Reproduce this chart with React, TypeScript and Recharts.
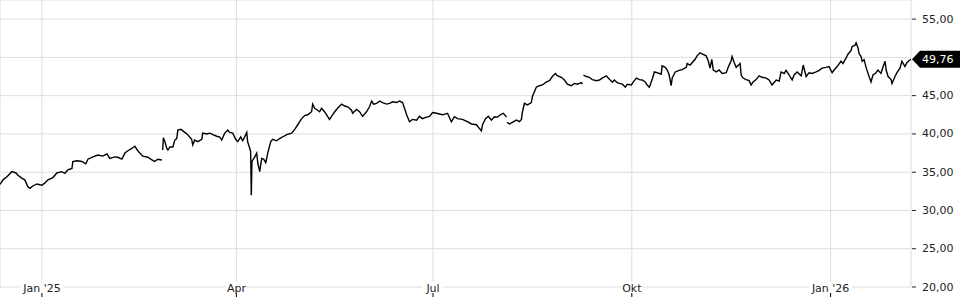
import { LineChart, Line, XAxis, YAxis, CartesianGrid, ReferenceDot } from 'recharts';

// days since 2025-01-01 (fractional = intraday), null price = gap in the feed
const days = [
  -19.4, -18.0, -16.2, -13.9, -12.0, -11.1, -9.2, -7.9, -6.5, -5.5, -4.2, -2.3, 0.0, 1.4, 2.8, 5.1, 6.9, 9.2,
  10.6, 12.0, 13.9, 14.3, 16.2, 18.5, 20.3, 21.3, 23.6, 25.9, 28.2, 30.1, 31.4, 33.7, 35.1, 37.0, 38.4, 39.8,
  41.6, 43.0, 43.9, 45.3, 46.7, 49.0, 50.9, 52.2, 53.6, 55.5, 55.7, 55.9, 56.2, 56.9, 57.8, 58.3, 59.2, 60.6,
  61.5, 62.4, 62.9, 64.3, 65.2, 66.6, 67.5, 69.3, 69.8, 70.7, 72.1, 74.0, 74.4, 76.3, 77.7, 79.1, 80.9, 82.3,
  83.2, 84.6, 86.0, 86.9, 88.3, 89.7, 90.6, 92.0, 92.9, 93.8, 94.8, 95.2, 96.2, 96.6, 96.9, 97.2, 98.5, 99.4,
  99.9, 100.8, 101.7, 102.6, 103.6, 104.5, 105.9, 106.8, 108.6, 110.0, 111.4, 113.3, 115.6, 117.0, 118.4,
  119.3, 120.2, 121.6, 123.0, 124.8, 125.3, 126.2, 127.6, 128.5, 129.4, 130.8, 132.2, 133.1, 134.5, 135.5,
  136.8, 138.7, 140.1, 141.5, 143.3, 143.8, 145.6, 147.0, 148.4, 150.2, 151.6, 152.6, 153.5, 154.9, 156.3,
  157.6, 159.5, 160.9, 162.3, 164.1, 165.5, 166.9, 167.8, 168.8, 170.1, 171.5, 173.4, 174.7, 176.1, 178.0,
  179.4, 180.8, 182.6, 184.0, 185.4, 187.7, 189.5, 190.9, 192.3, 194.6, 196.9, 198.8, 201.1, 202.5, 203.4,
  203.9, 205.3, 206.6, 208.0, 209.4, 210.8, 212.7, 213.6, 215.0, 215.1, 215.2, 216.4, 217.7, 219.6, 221.0,
  221.9, 222.4, 223.3, 224.7, 226.5, 227.0, 227.9, 228.8, 230.2, 231.6, 233.5, 234.9, 236.2, 237.6, 238.5,
  240.4, 241.8, 243.2, 245.0, 246.4, 247.8, 249.7, 250.1, 250.3, 250.6, 252.0, 253.3, 254.7, 256.6, 258.0,
  259.3, 261.2, 262.1, 264.0, 264.9, 266.3, 267.2, 268.6, 270.0, 270.9, 272.8, 273.7, 275.1, 276.5, 277.8,
  279.2, 280.1, 281.1, 282.4, 283.4, 284.7, 286.6, 287.0, 288.5, 289.4, 290.3, 291.2, 291.7, 293.1, 294.9,
  296.3, 298.2, 298.6, 300.0, 300.9, 302.3, 303.2, 304.6, 305.5, 307.4, 308.3, 309.2, 310.0, 310.7, 312.1,
  313.4, 314.8, 316.7, 317.6, 319.0, 319.4, 320.4, 321.3, 323.1, 323.6, 324.5, 325.9, 327.3, 328.2, 329.1,
  330.5, 331.9, 333.3, 335.2, 336.5, 337.9, 339.8, 341.2, 342.1, 343.5, 344.4, 345.8, 347.2, 348.1, 349.5,
  351.4, 352.3, 353.7, 355.0, 356.4, 358.3, 359.7, 361.0, 362.9, 364.3, 365.7, 366.6, 368.0, 369.8, 370.7,
  372.1, 373.1, 374.5, 374.9, 376.3, 376.8, 377.7, 378.2, 379.1, 379.6, 380.5, 381.4, 382.8, 383.7, 384.6,
  386.0, 386.9, 388.3, 389.3, 390.2, 390.7, 391.6, 393.0, 393.4, 394.8, 395.7, 397.1, 398.0, 399.4, 400.3,
  401.3, 402.2,
];

const prices: (number | null)[] = [
  33.4, 34.0, 34.4, 35.07, 34.9, 34.6, 34.2, 34.0, 33.1, 32.9, 33.2, 33.46, 33.3, 33.6, 34.0, 34.3, 34.9, 35.07,
  34.86, 35.3, 35.5, 36.4, 36.5, 36.4, 36.1, 36.7, 37.0, 37.25, 37.1, 37.4, 36.8, 37.0, 36.95, 36.7, 37.5, 37.8,
  38.1, 38.4, 38.0, 37.5, 37.1, 36.95, 36.6, 36.4, 36.7, 36.6, null, 37.9, 39.5, 39.0, 38.1, 37.9, 38.3, 38.3,
  39.2, 39.4, 40.5, 40.6, 40.4, 40.1, 39.9, 39.3, 38.55, 39.2, 39.0, 39.3, 40.1, 40.0, 40.1, 39.9, 39.7, 39.6,
  39.2, 40.1, 40.5, 40.2, 40.1, 39.3, 39.0, 39.6, 39.1, 39.6, 40.2, 39.0, 38.1, 37.7, 32.0, 36.4, 37.0, 37.5,
  36.2, 35.07, 36.8, 36.7, 36.25, 37.5, 39.0, 39.3, 39.1, 39.4, 39.6, 39.9, 40.1, 40.6, 41.2,
  41.6, 42.0, 42.4, 42.5, 42.9, 43.9, 43.35, 43.1, 42.9, 43.35, 42.9, 42.3, 41.9, 42.5, 42.9,
  43.35, 43.9, 43.65, 43.55, 43.1, 42.7, 43.2, 42.9, 42.3, 42.9, 43.55, 44.3, 43.9, 44.0, 44.3,
  44.1, 43.9, 44.0, 44.2, 44.1, 44.3, 44.1, 43.35, 42.5, 41.6, 41.9, 41.8, 42.3, 42.0, 42.2,
  42.3, 42.8, 42.7, 42.6, 42.5, 42.7, 41.6, 42.25, 42.0, 41.9, 41.6, 41.3, 41.2, 40.7, 40.4,
  41.2, 42.0, 42.3, 41.8, 42.25, 42.2, 42.6, 42.7, 42.2, null, 41.5, 41.3, 41.5, 41.8, 41.6,
  41.9, 42.9, 44.0, 43.8, 44.1, 44.9, 45.5, 46.1, 46.3, 46.4, 46.8, 46.96, 47.5, 47.9, 47.6,
  47.4, 47.05, 46.5, 46.3, 46.6, 46.5, 46.7, 46.5, null, 47.7, 47.5, 47.4, 47.1, 46.96, 47.05,
  47.3, 47.6, 47.3, 46.75, 47.05, 46.7, 46.6, 46.5, 46.1, 46.5, 46.4, 46.8, 47.3, 47.1, 47.05,
  46.8, 46.4, 46.1, 47.1, 48.1, 48.0, 47.8, 48.9, 48.7, 48.35, 47.7, 46.3, 47.3, 48.1, 48.3,
  48.4, 48.7, 49.2, 49.0, 49.3, 49.75, 50.2, 50.6, 50.45, 50.2, 49.6, 48.6, 49.75, 48.35, 48.1,
  48.35, 47.9, 48.0, 48.7, 49.6, 50.1, 49.3, 48.7, 49.2, 47.7, 47.3, 47.1, 46.96, 46.4, 46.8,
  47.1, 47.6, 47.4, 47.3, 47.05, 46.4, 47.05, 46.9, 48.1, 47.9, 48.3, 47.7, 47.05, 47.7, 48.1,
  47.6, 49.0, 47.5, 48.0, 47.9, 48.1, 48.3, 48.6, 48.7, 48.8, 48.0, 48.35, 48.8, 49.5, 49.2,
  49.9, 50.45, 50.9, 51.4, 51.6, 51.9, 51.2, 50.5, 50.1, 49.5, 49.7, 48.7, 47.5, 46.8, 47.7,
  48.0, 48.35, 47.9, 48.8, 49.5, 48.35, 47.5, 47.1, 46.6, 47.5, 48.0, 48.6, 49.5, 48.8, 49.3,
  49.6, 49.76,
];

const tickDays = [0, 90, 181, 273, 365];
const tickLabels = ["Jan '25", 'Apr', 'Jul', 'Okt', "Jan '26"];
const priceTicks = [20, 25, 30, 35, 40, 45, 50, 55];

const data = days.map((day, i) => ({ day, price: prices[i] }));
const lastDay = days[days.length - 1];
const lastPrice = prices[prices.length - 1] as number;

const FONT = '"DejaVu Sans", sans-serif';
const fmt = (v: number) => v.toFixed(2).replace('.', ',');

function XTick({ x, y, payload }: any) {
  const label = tickLabels[tickDays.indexOf(payload.value)] ?? '';
  const w = label.length * 5.6 + 4;
  return (
    <g>
      <rect x={x - w / 2} y={y - 5} width={w} height={11} fill="#fff" />
      <text x={x} y={y + 4.5} textAnchor="middle" fontSize={11} fontFamily={FONT} fill="#222">
        {label}
      </text>
      <line x1={x} x2={x} y1={y + 6} y2={y + 10} stroke="#000" strokeWidth={1} />
    </g>
  );
}

function YTick({ x, y, payload }: any) {
  // the last-price tag sits on top of this label in the original
  if (Math.abs(payload.value - lastPrice) < 2) return <g />;
  return (
    <g>
      <line x1={x + 1} x2={x + 5} y1={y} y2={y} stroke="#222" strokeWidth={1} />
      <text x={x + 11} y={y} dominantBaseline="central" fontSize={11} fontFamily={FONT} fill="#222">
        {fmt(payload.value)}
      </text>
    </g>
  );
}

function LastTag({ cx, cy }: any) {
  const h = 8.5;
  return (
    <g>
      <polygon
        points={`${cx + 1},${cy} ${cx + 9},${cy - h} 960,${cy - h} 960,${cy + h} ${cx + 9},${cy + h}`}
        fill="#000"
      />
      <text x={cx + 11} y={cy} dominantBaseline="central" fontSize={11} fontFamily={FONT} fill="#fff">
        {fmt(lastPrice)}
      </text>
    </g>
  );
}

export default function App() {
  return (
    <div style={{ width: 960, height: 300 }}>
      <style>{'body{margin:0}'}</style>
      <LineChart width={960} height={300} data={data} margin={{ top: 0, right: 0, bottom: 0, left: 0 }}>
        <CartesianGrid stroke="#ddd" strokeWidth={1} />
        <XAxis
          dataKey="day"
          type="number"
          domain={[-19.4, 402.2]}
          ticks={tickDays}
          interval={0}
          height={13}
          axisLine={false}
          tickLine={false}
          tickSize={0}
          tickMargin={0}
          tick={<XTick />}
          allowDataOverflow
        />
        <YAxis
          orientation="right"
          domain={[20, 57.5]}
          ticks={priceTicks}
          interval={0}
          width={49}
          axisLine={false}
          tickLine={false}
          tickSize={0}
          tickMargin={0}
          tick={<YTick />}
          allowDataOverflow
        />
        <Line
          dataKey="price"
          type="linear"
          stroke="#000"
          strokeWidth={1.4}
          dot={false}
          activeDot={false}
          connectNulls={false}
          isAnimationActive={false}
        />
        <ReferenceDot x={lastDay} y={lastPrice} ifOverflow="visible" shape={<LastTag />} />
      </LineChart>
    </div>
  );
}
